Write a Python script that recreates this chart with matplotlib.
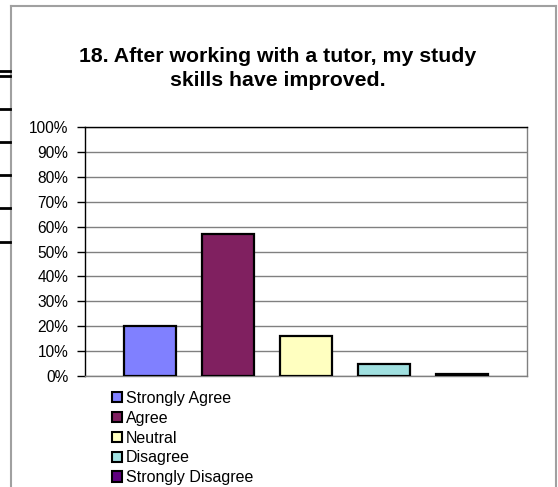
import matplotlib
matplotlib.use("Agg")
import matplotlib.pyplot as plt
from matplotlib.lines import Line2D
from matplotlib.patches import Patch
from matplotlib.ticker import PercentFormatter

plt.rcParams["font.family"] = ["Liberation Sans", "DejaVu Sans"]

title = "18. After working with a tutor, my study\nskills have improved."
answers = ["Strongly Agree", "Agree", "Neutral", "Disagree", "Strongly Disagree"]
shares = [20, 57, 16, 5, 1]
colors = ["#8080FF", "#802060", "#FFFFC0", "#A0E0E0", "#600080"]
y_ticks = list(range(0, 101, 10))

W, H = 558, 487
fig = plt.figure(figsize=(W / 100, H / 100), dpi=100)

# axes box in pixel terms: left 85, right 527, top 127, bottom 376
ax = fig.add_axes([85 / W, 1 - 376 / H, (527 - 85) / W, (376 - 127) / H])

x = list(range(len(answers)))
ax.bar(x, shares, width=0.667, color=colors, edgecolor="black", linewidth=1.6, zorder=3)

ax.set_xlim(-0.84, 4.84)
ax.set_ylim(0, 100)
ax.set_yticks(y_ticks)
ax.yaxis.set_major_formatter(PercentFormatter(decimals=0))
ax.set_xticks([])
ax.tick_params(axis="y", length=6, width=1, labelsize=11.2, pad=6, colors="black")
ax.grid(axis="y", color="#808080", linewidth=1, zorder=0)

ax.spines["left"].set_color("black")
ax.spines["top"].set_color("black")
ax.spines["right"].set_color("#808080")
ax.spines["bottom"].set_color("#808080")
for s in ax.spines.values():
    s.set_linewidth(1)

fig.text(277.5 / W, 1 - 68.5 / H, title, ha="center", va="center",
         fontsize=15.3, fontweight="bold", linespacing=1.35)

handles = [Patch(facecolor=c, edgecolor="black", linewidth=1.5) for c in colors]
fig.legend(handles, answers, loc="upper left", bbox_to_anchor=(112 / W, 1 - 391 / H),
           frameon=False, fontsize=11.5, handlelength=0.6, handleheight=0.6,
           handletextpad=0.25, labelspacing=0.3, borderpad=0, borderaxespad=0)

# outer chart border (bottom edge is cut off)
fig.add_artist(Line2D([11 / W, 11 / W], [0, 1 - 6 / H], color="#a0a0a0", lw=1.5))
fig.add_artist(Line2D([11 / W, 556 / W], [1 - 6 / H, 1 - 6 / H], color="#a0a0a0", lw=1.5))
fig.add_artist(Line2D([556 / W, 556 / W], [0, 1 - 6 / H], color="#a0a0a0", lw=1.5))

# bits of a table showing on the left edge
for yy in [71, 76, 109, 142, 175, 208, 242]:
    fig.add_artist(Line2D([0, 10 / W], [1 - yy / H, 1 - yy / H], color="black", lw=2))

plt.savefig("out.png", dpi=100)
